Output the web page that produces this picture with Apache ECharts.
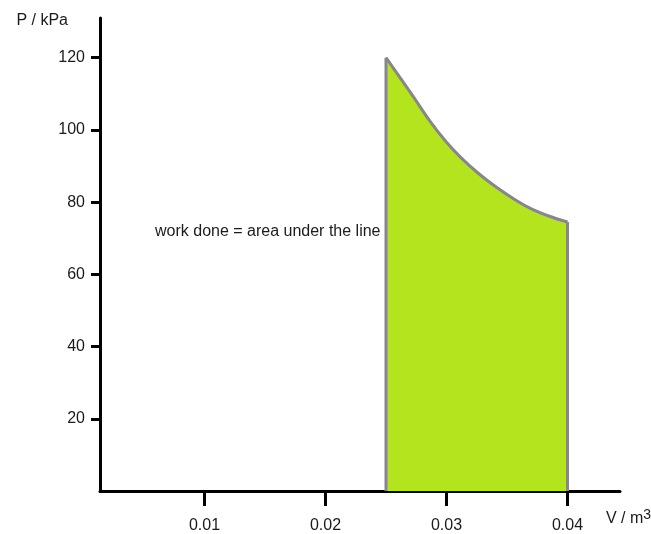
<!DOCTYPE html>
<html><head><meta charset="utf-8">
<script src="https://cdn.jsdelivr.net/npm/echarts@6/dist/echarts.min.js"></script>
<style>html,body{margin:0;padding:0;background:#fff}#c{width:651px;height:534px}</style>
</head><body><div id="c"></div>
<script>
const curveV = [0.025, 0.0272, 0.0286, 0.030, 0.0313, 0.0327, 0.0341, 0.0358, 0.0371, 0.0385, 0.040];
const curveP = [120, 109.5, 102.6, 96.6, 92.0, 87.8, 84.2, 80.4, 78.0, 76.1, 74.5];
const xTicks = [0.01, 0.02, 0.03, 0.04];
const yTicks = [20, 40, 60, 80, 100, 120];
const annotation = 'work done = area under the line';

const curve = curveV.map((v, i) => [v, curveP[i]]);
const leftEdge = [[curveV[0], 0], [curveV[0], curveP[0]]];
const last = curveV.length - 1;
const rightEdge = [[curveV[last], 0], [curveV[last], curveP[last]]];

const FONT = 'Liberation Sans, Arial, sans-serif';
const TXT = '#1b1b1b';
const chart = echarts.init(document.getElementById('c'));
chart.setOption({
  animation: false,
  grid: { left: 100, right: 31, top: 18, bottom: 43, outerBoundsMode: 'none', containLabel: false },
  xAxis: {
    type: 'value', min: 0.001364, max: 0.044339,
    name: 'V / m{s|3}', nameLocation: 'end', nameGap: -14,
    nameTextStyle: {
      fontFamily: FONT, fontSize: 16, color: TXT, align: 'left', verticalAlign: 'top', padding: [17, 0, 0, 0],
      rich: { s: { fontFamily: FONT, fontSize: 14, color: TXT, verticalAlign: 'bottom', padding: [0, 0, 8, 0] } }
    },
    axisLine: { show: true, lineStyle: { color: '#000', width: 3 } },
    axisTick: { show: true, customValues: xTicks, length: 15, lineStyle: { color: '#000', width: 3 } },
    axisLabel: { customValues: xTicks, margin: 27, fontFamily: FONT, fontSize: 16, color: TXT, formatter: v => v.toFixed(2) },
    splitLine: { show: false }
  },
  yAxis: {
    type: 'value', min: 0, max: 131,
    name: 'P / kPa', nameLocation: 'end', nameGap: -3,
    nameTextStyle: { fontFamily: FONT, fontSize: 16, color: TXT, align: 'right', verticalAlign: 'middle', padding: [0, 32, 0, 0] },
    axisLine: { show: true, lineStyle: { color: '#000', width: 3 } },
    axisTick: { show: true, customValues: yTicks, length: 9, lineStyle: { color: '#000', width: 3 } },
    axisLabel: { customValues: yTicks, margin: 15, fontFamily: FONT, fontSize: 16, color: TXT },
    splitLine: { show: false }
  },
  series: [
    { type: 'line', data: curve, smooth: 0.3, symbol: 'none',
      lineStyle: { color: '#878787', width: 3 },
      areaStyle: { color: '#b4e41e', opacity: 1, origin: 'start' } },
    { type: 'line', data: leftEdge, symbol: 'none', lineStyle: { color: '#878787', width: 3 } },
    { type: 'line', data: rightEdge, symbol: 'none', lineStyle: { color: '#878787', width: 3 } }
  ],
  graphic: [
    { type: 'text', left: 155, top: 224, style: { text: annotation, fontFamily: FONT, fontSize: 16, fill: TXT } }
  ]
});
</script></body></html>
